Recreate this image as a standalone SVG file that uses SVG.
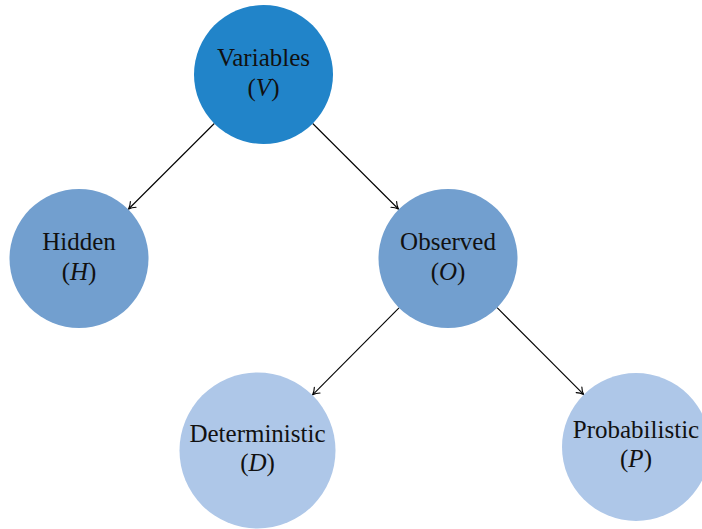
<svg xmlns="http://www.w3.org/2000/svg" width="702" height="529" viewBox="0 0 702 529">
  <style>
    .lbl { font-family: "Liberation Serif", "Times New Roman", serif; font-size: 25px; fill: #111; text-anchor: middle; }
    .var { font-style: italic; }
    .edge { stroke: #000; stroke-width: 1.1; fill: none; marker-end: url(#tip); }
    .lvl0 { fill: #2184C9; }
    .lvl1 { fill: #729FCF; }
    .lvl2 { fill: #AEC7E8; }
  </style>
  <defs>
    <marker id="tip" markerUnits="userSpaceOnUse" markerWidth="12" markerHeight="12" viewBox="-8 -6 10 12" refX="0" refY="0" orient="auto" overflow="visible">
      <path d="M -6.5,-4 C -4,-1.6 -1.5,-0.5 0,0 C -1.5,0.5 -4,1.6 -6.5,4" fill="none" stroke="#000" stroke-width="1.1" stroke-linecap="round"/>
    </marker>
  </defs>

  <g id="connectors">
    <line class="edge" x1="214.3" y1="123.5" x2="128.6" y2="209.0"/>
    <line class="edge" x1="312.7" y1="123.5" x2="398.4" y2="209.0"/>
    <line class="edge" x1="399.0" y1="307.8" x2="312.6" y2="394.8"/>
    <line class="edge" x1="497.1" y1="307.7" x2="583.6" y2="394.4"/>
  </g>

  <g id="variables">
    <circle class="lvl0" cx="263.5" cy="74.5" r="69.5"/>
    <text class="lbl" x="263.5" y="65.5">Variables</text>
    <text class="lbl" x="263.5" y="95.5">(<tspan class="var">V</tspan>)</text>
  </g>

  <g id="hidden">
    <circle class="lvl1" cx="79" cy="258.5" r="69.5"/>
    <text class="lbl" x="79" y="249.5">Hidden</text>
    <text class="lbl" x="79" y="279.5">(<tspan class="var">H</tspan>)</text>
  </g>

  <g id="observed">
    <circle class="lvl1" cx="448" cy="258.5" r="69.5"/>
    <text class="lbl" x="448" y="249.5">Observed</text>
    <text class="lbl" x="448" y="279.5">(<tspan class="var">O</tspan>)</text>
  </g>

  <g id="deterministic">
    <circle class="lvl2" cx="257.5" cy="450.5" r="78"/>
    <text class="lbl" x="257.5" y="441.5">Deterministic</text>
    <text class="lbl" x="257.5" y="470.5">(<tspan class="var">D</tspan>)</text>
  </g>

  <g id="probabilistic">
    <circle class="lvl2" cx="636" cy="447" r="74"/>
    <text class="lbl" x="636" y="438">Probabilistic</text>
    <text class="lbl" x="636" y="467">(<tspan class="var">P</tspan>)</text>
  </g>
</svg>
